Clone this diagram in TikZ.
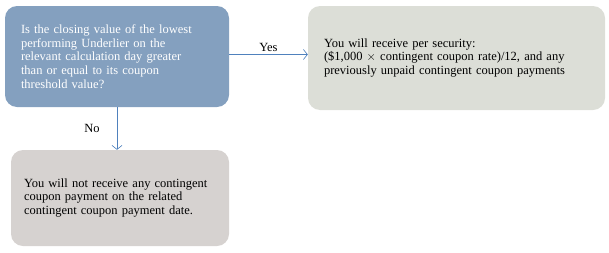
\documentclass[tikz,border=0pt]{standalone}
\usepackage{fontspec}
\setmainfont{Liberation Serif}
\usepackage{xcolor}
\usetikzlibrary{arrows.meta, positioning}

\definecolor{condblue}{RGB}{132,160,191}
\definecolor{paygray}{RGB}{220,222,215}
\definecolor{nopaygray}{RGB}{214,210,208}
\definecolor{arrblue}{RGB}{79,129,189}

\begin{document}
\begin{tikzpicture}[
  font=\fontsize{12.5}{13.6}\selectfont,
  block/.style={rounded corners=12pt, align=left, inner xsep=16pt,
                inner ysep=0pt, anchor=center},
  arr/.style={-{Straight Barb[length=4pt, width=10pt]}, draw=arrblue, line width=0.6pt},
  lbl/.style={inner sep=3pt}
]
\useasboundingbox (0,0) rectangle (609pt,-252pt);

\node[block, fill=condblue, text=white, text width=192pt, minimum height=101pt]
  (cond) at (117pt,-56.5pt) {
  Is the closing value of the lowest\\
  performing Underlier on the\\
  relevant calculation day greater\\
  than or equal to its coupon\\
  threshold value?
};

\node[block, fill=paygray, text width=265pt, minimum height=104pt]
  (pay) at (456.5pt,-58pt) {
  You will receive per security:\\
  (\$1,000 $\times$ contingent coupon rate)/12, and any\\
  previously unpaid contingent coupon payments
};

\node[block, fill=nopaygray, text width=192pt, inner xsep=13pt, minimum height=96pt]
  (nopay) at (120pt,-198pt) {
  You will not receive any contingent\\
  coupon payment on the related\\
  contingent coupon payment date.
};

\draw[arr] ([yshift=2pt]cond.east) -- ([yshift=2pt]cond.east -| pay.west)
  node[lbl, midway, above] {Yes};
\draw[arr] (cond.south) -- (cond.south |- nopay.north)
  node[lbl, midway, left, xshift=-14pt] {No};

\end{tikzpicture}
\end{document}
